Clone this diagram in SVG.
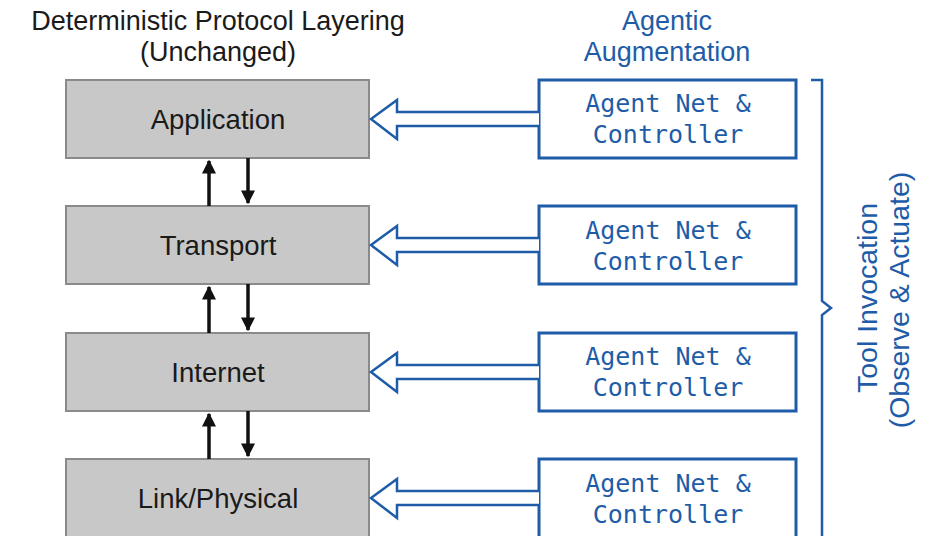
<svg xmlns="http://www.w3.org/2000/svg" width="942" height="536" viewBox="0 0 942 536">
<style>
.layer rect{fill:#c8c8c8;stroke:#8a8a8a;stroke-width:2}
.layer text{font-family:"Liberation Sans",Arial,sans-serif;font-size:27.5px;fill:#1a1a1a;text-anchor:middle}
.agent rect{fill:#fff;stroke:#1f5ca8;stroke-width:3}
.agent text{font-family:"DejaVu Sans Mono","Liberation Mono",monospace;font-size:25px;fill:#1f5ca8;text-anchor:middle}
.title{font-family:"Liberation Sans",Arial,sans-serif;font-size:27px;text-anchor:middle}
.vtitle{font-family:"Liberation Sans",Arial,sans-serif;font-size:28.5px;text-anchor:middle}
.hollow{fill:#fff;stroke:#1f5ca8;stroke-width:2.5;stroke-linejoin:miter}
.blk{stroke:#111;stroke-width:3.5;fill:none}
</style>
<defs>
<marker id="ah" viewBox="0 0 10 10" refX="9" refY="5" markerWidth="4" markerHeight="4" orient="auto" markerUnits="strokeWidth">
<path d="M0,0 L10,5 L0,10 z" fill="#111"/>
</marker>
</defs>
<rect width="942" height="536" fill="#fff"/>
<text class="title" x="218" y="30" fill="#1a1a1a">Deterministic Protocol Layering</text>
<text class="title" x="218" y="61" fill="#1a1a1a">(Unchanged)</text>
<text class="title" x="667" y="30" fill="#1f5ca8">Agentic</text>
<text class="title" x="667" y="61" fill="#1f5ca8">Augmentation</text>

<g id="layer-application" class="layer"><rect x="66" y="80" width="303" height="78"/><text x="218" y="129">Application</text></g>
<g id="layer-transport" class="layer"><rect x="66" y="206" width="303" height="78"/><text x="218" y="255">Transport</text></g>
<g id="layer-internet" class="layer"><rect x="66" y="333" width="303" height="78"/><text x="218" y="382">Internet</text></g>
<g id="layer-link" class="layer"><rect x="66" y="459" width="303" height="90"/><text x="218" y="508">Link/Physical</text></g>

<g id="agent-1" class="agent"><rect x="539" y="80" width="257" height="78"/><text x="668" y="112">Agent Net &amp;</text><text x="668" y="143">Controller</text></g>
<g id="agent-2" class="agent"><rect x="539" y="206" width="257" height="78"/><text x="668" y="239">Agent Net &amp;</text><text x="668" y="270">Controller</text></g>
<g id="agent-3" class="agent"><rect x="539" y="333" width="257" height="78"/><text x="668" y="365">Agent Net &amp;</text><text x="668" y="396">Controller</text></g>
<g id="agent-4" class="agent"><rect x="539" y="459" width="257" height="90"/><text x="668" y="492">Agent Net &amp;</text><text x="668" y="523">Controller</text></g>

<g id="connectors">
<path class="hollow" d="M539,112 L397,112 L397,100 L371,119 L397,139 L397,126 L539,126"/>
<path class="hollow" d="M539,238 L397,238 L397,226 L371,245 L397,265 L397,252 L539,252"/>
<path class="hollow" d="M539,365 L397,365 L397,353 L371,372 L397,392 L397,379 L539,379"/>
<path class="hollow" d="M539,491 L397,491 L397,479 L371,498 L397,518 L397,505 L539,505"/>
<line class="blk" x1="209" y1="206" x2="209" y2="161" marker-end="url(#ah)"/>
<line class="blk" x1="248" y1="158" x2="248" y2="203" marker-end="url(#ah)"/>
<line class="blk" x1="209" y1="333" x2="209" y2="287" marker-end="url(#ah)"/>
<line class="blk" x1="248" y1="284" x2="248" y2="330" marker-end="url(#ah)"/>
<line class="blk" x1="209" y1="459" x2="209" y2="414" marker-end="url(#ah)"/>
<line class="blk" x1="248" y1="411" x2="248" y2="456" marker-end="url(#ah)"/>
</g>

<g id="bracket">
<path d="M811,80 L822,80 L822,301 L831,308 L822,315 L822,545" fill="none" stroke="#1f5ca8" stroke-width="2.5"/>
<text class="vtitle" transform="translate(877,298) rotate(-90)" fill="#1f5ca8">Tool Invocation</text>
<text class="vtitle" transform="translate(909,300) rotate(-90)" fill="#1f5ca8">(Observe &amp; Actuate)</text>
</g>
</svg>
